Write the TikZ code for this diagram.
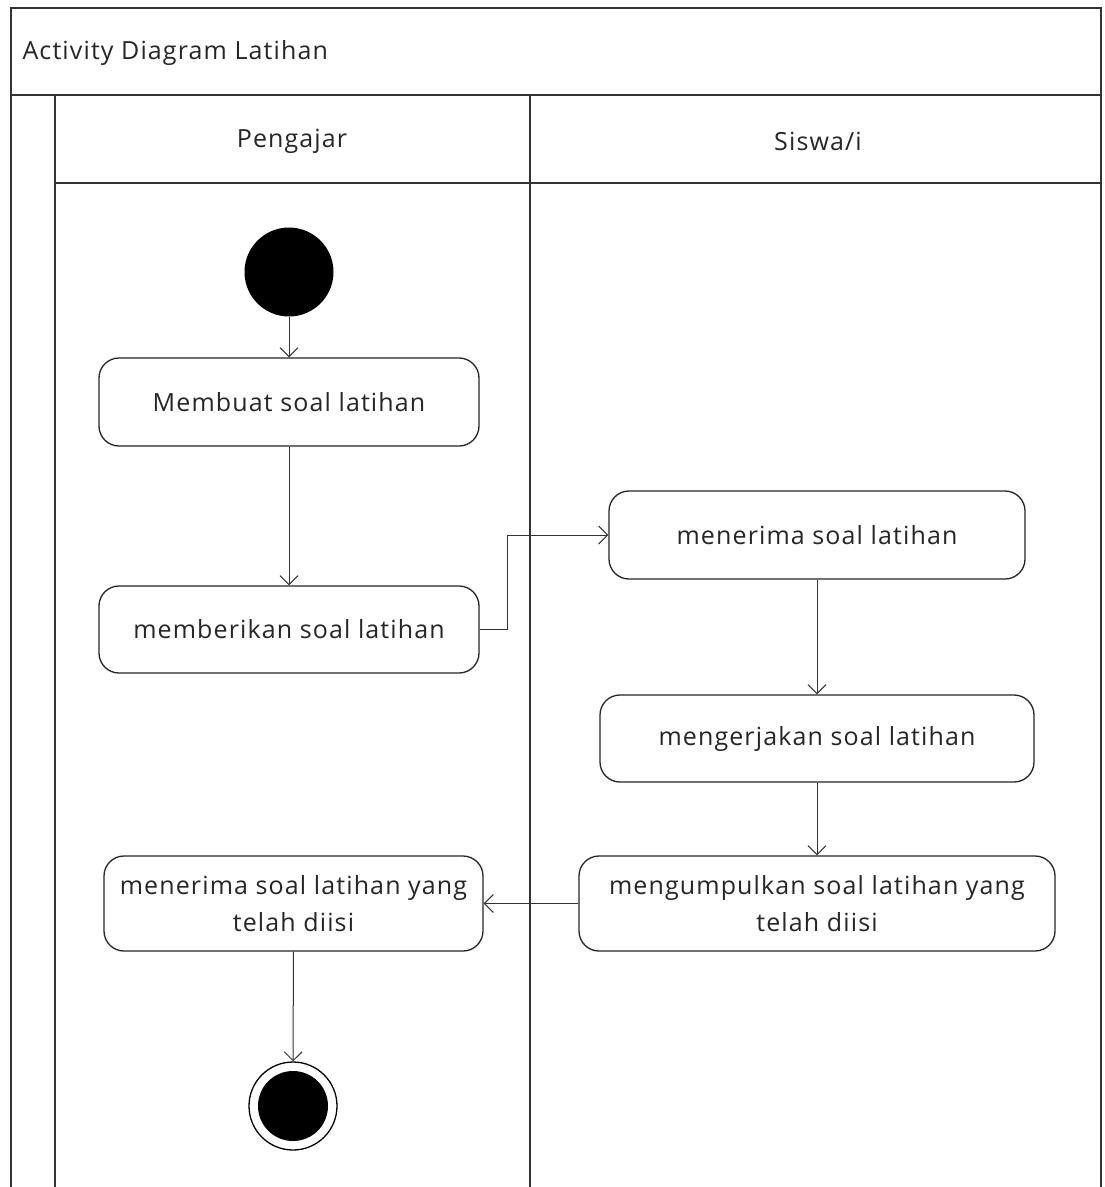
\documentclass[tikz,border=0pt]{standalone}
\usepackage{fontspec}
\setmainfont[LetterSpace=4.5]{Open Sans}
\usetikzlibrary{arrows.meta}
\begin{document}
\begin{tikzpicture}[x=1pt,y=-1pt,
  lane/.style={draw=black!80, line width=2pt},
  act/.style={draw=black!85, line width=1.3pt, rounded corners=20pt, align=center,
    font=\fontsize{25}{37}\selectfont, text=black!85, inner sep=0pt},
  lbl/.style={font=\fontsize{25}{28}\selectfont, text=black!85},
  flow/.style={draw=black!80, line width=1pt, -{Straight Barb[length=9pt,width=18pt]}},
  startnode/.style={circle, fill=black, minimum size=89pt, inner sep=0pt},
  endnode/.style={circle, draw=black, line width=1.3pt, fill=white, minimum size=88pt, inner sep=0pt},
]
\useasboundingbox (0,0) rectangle (1104,1187);
\fill[white] (0,0) rectangle (1104,1187);
% swimlane frame
\draw[lane] (11,1187) -- (11,8) -- (1101,8) -- (1101,1187);
\draw[lane] (11,95) -- (1101,95);
\draw[lane] (55,95) -- (55,1187);
\draw[lane] (55,183) -- (1101,183);
\draw[lane] (530,95) -- (530,1187);
\node[lbl, anchor=west] (title) at (19,53) {Activity Diagram Latihan};
\node[lbl] (lane1) at (292,141) {Pengajar};
\node[lbl] (lane2) at (818,141) {Siswa/i};
% nodes
\node[startnode] (start) at (289,272) {};
\node[act, minimum width=380pt, minimum height=88pt] (n1) at (289,402) {Membuat soal latihan};
\node[act, minimum width=380pt, minimum height=87pt] (n2) at (289,629.5) {memberikan soal latihan};
\node[act, minimum width=416pt, minimum height=88pt] (n3) at (817,535) {menerima soal latihan};
\node[act, minimum width=434pt, minimum height=87pt] (n4) at (817,738.5) {mengerjakan soal latihan};
\node[act, minimum width=476pt, minimum height=95pt] (n5) at (817,903.5) {mengumpulkan soal latihan yang\\telah diisi};
\node[act, minimum width=379pt, minimum height=95pt] (n6) at (293.5,903.5) {menerima soal latihan yang\\telah diisi};
\node[endnode] (end) at (293,1106) {};
\fill[black] (end.center) circle (35pt);
% flows
\draw[flow] (start) -- (n1);
\draw[flow] (n1) -- (n2);
\draw[flow] (n2.east) -- ++(28,0) |- (n3.west);
\draw[flow] (n3) -- (n4);
\draw[flow] (n4) -- (n5);
\draw[flow] (n5) -- (n6);
\draw[flow] (n6) -- (end);
\end{tikzpicture}
\end{document}
